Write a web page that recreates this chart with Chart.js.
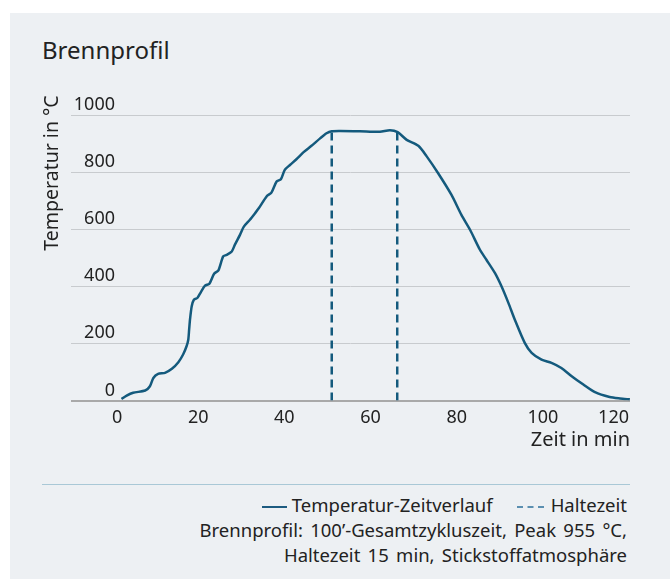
<!DOCTYPE html>
<html>
<head>
<meta charset="utf-8">
<script src="https://cdn.jsdelivr.net/npm/chart.js@4"></script>
<style>
  body { margin: 0; width: 670px; height: 579px; background: #fff; position: relative; overflow: hidden;
         font-family: "Noto Sans", sans-serif; color: #222; }
  #panel { position: absolute; left: 10px; top: 13px; right: 0; bottom: 0; background: #edf0f3; }
  #title { position: absolute; left: 42px; top: 33px; font-size: 24px; }
  #chart { position: absolute; left: 0; top: 0; }
  #sep { position: absolute; left: 42px; top: 484px; width: 588px; height: 1px; background: #a9c8d6; }
  #legend { position: absolute; right: 43px; top: 492px; font-size: 18.5px; line-height: 25px; text-align: right; }
  #legend .note { word-spacing: 2.5px; }
  .item { display: inline-block; }
  .solid { display: inline-block; width: 25px; border-top: 2.5px solid #1d5b80; vertical-align: middle; margin-right: 5px; }
  .dash { display: inline-block; width: 27px; border-top: 2.5px dashed #5b8fb0; vertical-align: middle; margin-right: 7px; margin-left: 24px; }
</style>
</head>
<body>
<div id="panel"></div>
<div id="title">Brennprofil</div>
<canvas id="chart" width="670" height="460"></canvas>
<div id="sep"></div>
<div id="legend">
  <div><span class="item"><span class="solid"></span>Temperatur-Zeitverlauf</span><span class="item"><span class="dash"></span>Haltezeit</span></div>
  <div class="note">Brennprofil: 100’-Gesamtzykluszeit, Peak 955 °C,</div>
  <div class="note">Haltezeit 15 min, Stickstoffatmosphäre</div>
</div>
<script>
const zeit = [2.2, 3.4, 4.9, 7.7, 8.8, 9.6, 10.7, 12.3, 13.9, 15.4, 16.5, 17.3, 17.7, 17.9, 18.1, 18.5, 19.0, 19.8,
  20.6, 21.6, 22.6, 23.7, 24.7, 25.8, 26.6, 27.8, 28.5, 29.7, 30.6, 32.0, 33.2, 34.1, 36.0, 37.0, 38.2, 39.2,
  40.1, 41.3, 42.8, 44.4, 46.3, 48.3, 49.8, 51.0, 53.0, 57.5, 62.2, 64.5, 66.3, 68.4, 71.1, 73.0, 75.7, 78.8,
  81.1, 83.1, 85.4, 86.9, 88.9, 90.4, 92.0, 93.5, 95.8, 97.4, 99.7, 102.0, 104.3, 106.7, 109.4, 112.1, 115.5,
  117.9, 120.2];
const temperatur = [5, 17, 27, 35, 50, 79, 93, 97, 111, 134, 161, 190, 213, 248, 283, 330, 353, 359,
  379, 402, 409, 444, 456, 505, 510, 522, 545, 580, 609, 633, 656, 674, 717, 728, 767, 775,
  808, 825, 845, 869, 892, 918, 936, 943, 944, 943, 941, 947, 940, 913, 892, 856, 796, 720,
  650, 598, 528, 493, 446, 400, 342, 283, 202, 167, 143, 132, 114, 85, 56, 29, 12,
  7, 4];
const halteStart = [51.0, 51.0];
const halteEnde = [66.2, 66.2];
const halteY = [0, 942];
const xTicks = [0, 20, 40, 60, 80, 100, 120];
const yTicks = [0, 200, 400, 600, 800, 1000];

const farbe = '#145a7d';
const fontName = '"Noto Sans", sans-serif';

// y-Beschriftungen über den Rasterlinien + Achsentitel
const yLabels = {
  id: 'yLabels',
  afterDraw(chart) {
    const ctx = chart.ctx;
    const y = chart.scales.y;
    ctx.save();
    ctx.fillStyle = '#222';
    ctx.font = '18px ' + fontName;
    ctx.textAlign = 'right';
    ctx.textBaseline = 'alphabetic';
    yTicks.forEach(v => ctx.fillText(String(v), 115, y.getPixelForValue(v) - 5));
    ctx.translate(52, 173);
    ctx.rotate(-Math.PI / 2);
    ctx.textAlign = 'center';
    ctx.textBaseline = 'middle';
    ctx.font = '19.5px ' + fontName;
    ctx.fillText('Temperatur in °C', 0, 0);
    ctx.restore();
  }
};

new Chart(document.getElementById('chart'), {
  type: 'line',
  data: {
    datasets: [
      { label: 'Temperatur-Zeitverlauf', data: zeit.map((t, i) => ({ x: t, y: temperatur[i] })),
        borderColor: farbe, borderWidth: 2.5, pointRadius: 0, tension: 0.25, fill: false },
      { label: 'Haltezeit', data: halteStart.map((t, i) => ({ x: t, y: halteY[i] })),
        borderColor: farbe, borderWidth: 2.5, borderDash: [8, 5], pointRadius: 0 },
      { label: 'Haltezeit Ende', data: halteEnde.map((t, i) => ({ x: t, y: halteY[i] })),
        borderColor: farbe, borderWidth: 2.5, borderDash: [8, 5], pointRadius: 0 }
    ]
  },
  options: {
    responsive: false,
    animation: false,
    devicePixelRatio: 1,
    layout: { padding: { top: 115, right: 40, left: 0, bottom: 0 } },
    plugins: { legend: { display: false }, tooltip: { enabled: false } },
    scales: {
      x: {
        type: 'linear', min: -9.52, max: 120.23,
        afterBuildTicks: s => { s.ticks = xTicks.map(v => ({ value: v })); },
        afterFit: s => { s.height = 59.5; },
        grid: { display: false, drawTicks: false },
        border: { display: false },
        ticks: { align: 'inner', padding: 7, color: '#222', font: { family: fontName, size: 18 } },
        title: { display: true, text: 'Zeit in min', align: 'end', color: '#222',
                 font: { family: fontName, size: 20 }, padding: { top: 0, bottom: 8 } }
      },
      y: {
        min: 0, max: 1000,
        afterBuildTicks: s => { s.ticks = yTicks.map(v => ({ value: v })); },
        afterFit: s => { s.width = 71; },
        grid: {
          drawTicks: false,
          color: c => c.tick && c.tick.value === 0 ? '#a9a9a9' : '#c8cbce',
          lineWidth: c => c.tick && c.tick.value === 0 ? 2 : 1
        },
        border: { display: false },
        ticks: { display: false }
      }
    }
  },
  plugins: [yLabels]
});
</script>
</body>
</html>
